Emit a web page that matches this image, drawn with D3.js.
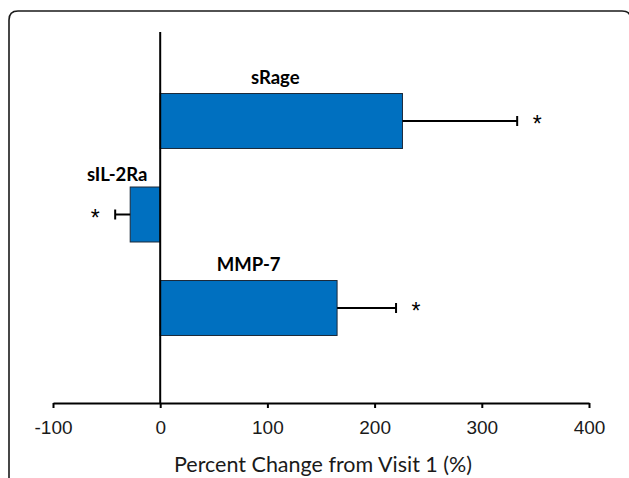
<!DOCTYPE html>
<html>
<head>
<meta charset="utf-8">
<script src="https://cdn.jsdelivr.net/npm/d3@7"></script>
<style>
  html, body { margin: 0; padding: 0; background: #fff; }
  svg { display: block; }
</style>
</head>
<body>
<svg id="chart" width="629" height="478"></svg>
<script>
// ---- data ----
const categories = ["sRage", "sIL-2Ra", "MMP-7"];
const values = [226, -28, 165];
const errors = [107, 14, 55];
const significant = [true, true, true];
const xTicks = [-100, 0, 100, 200, 300, 400];
const xTitle = "Percent Change from Visit 1 (%)";

const svg = d3.select("#chart");

// frame (rounded, cut off at right/bottom)
svg.append("path")
  .attr("d", "M9,490 L9,20 Q9,11 18,11 L622,11 Q631,11 631,20 L631,490")
  .attr("fill", "none").attr("stroke", "#1a1a1a").attr("stroke-width", 1.6);

const x = d3.scaleLinear().domain([-100, 400]).range([53, 589]);
const y = d3.scaleBand().domain(categories)
  .range([74.25, 354.75]).paddingInner(0.412).paddingOuter(0.206);
const axisY = 403;
const topY = 32;

const data = categories.map((c, i) => ({c, v: values[i], e: errors[i], s: significant[i]}));

// bars
svg.selectAll("rect.bar").data(data).join("rect")
  .attr("class", "bar")
  .attr("x", d => x(Math.min(0, d.v)))
  .attr("width", d => Math.abs(x(d.v) - x(0)))
  .attr("y", d => y(d.c))
  .attr("height", y.bandwidth())
  .attr("fill", "#0070C0")
  .attr("stroke", "#1c2a3a").attr("stroke-width", 1);

// error bars
const errEnd = d => d.v >= 0 ? d.v + d.e : d.v - d.e;
const mid = d => y(d.c) + y.bandwidth() / 2;
svg.selectAll("line.err").data(data).join("line")
  .attr("x1", d => x(d.v)).attr("x2", d => x(errEnd(d)))
  .attr("y1", mid).attr("y2", mid)
  .attr("stroke", "#000").attr("stroke-width", 2);
svg.selectAll("line.cap").data(data).join("line")
  .attr("x1", d => x(errEnd(d))).attr("x2", d => x(errEnd(d)))
  .attr("y1", d => mid(d) - 5).attr("y2", d => mid(d) + 5)
  .attr("stroke", "#000").attr("stroke-width", 2);

// asterisks
svg.selectAll("text.star").data(data.filter(d => d.s)).join("text")
  .attr("x", d => x(errEnd(d)) + (d.v >= 0 ? 20 : -20))
  .attr("y", d => mid(d) + 11)
  .attr("text-anchor", "middle")
  .attr("font-family", "'Liberation Sans', Arial, sans-serif")
  .attr("font-size", 23)
  .attr("fill", "#000")
  .text("*");

// category labels
svg.selectAll("text.lab").data(data).join("text")
  .attr("x", d => d.v >= 0 ? x(d.v / 2) - (d.v > 200 ? 6 : 0) : x(errEnd(d)) + 2)
  .attr("y", d => y(d.c) - (d.v >= 0 ? 10 : 6))
  .attr("text-anchor", "middle")
  .attr("font-family", "Lato, 'Liberation Sans', sans-serif")
  .attr("font-weight", "bold")
  .attr("font-size", 18.5)
  .attr("fill", "#000")
  .text(d => d.c);

// vertical zero line
svg.append("line")
  .attr("x1", x(0)).attr("x2", x(0))
  .attr("y1", topY).attr("y2", axisY)
  .attr("stroke", "#000").attr("stroke-width", 2);

// x axis
const gx = svg.append("g").attr("transform", `translate(0,${axisY})`)
  .call(d3.axisBottom(x).tickValues(xTicks).tickSize(5).tickSizeOuter(0).tickFormat(d3.format("d")).tickPadding(13));
gx.select(".domain").attr("stroke", "#000").attr("stroke-width", 2);
gx.selectAll(".tick line").attr("stroke", "#000").attr("stroke-width", 2);
gx.selectAll(".tick text")
  .attr("font-family", "'Liberation Sans', Arial, sans-serif")
  .attr("font-size", 19).attr("fill", "#1a1a1a")
  .text(d => d < 0 ? "-" + Math.abs(d) : d);

svg.append("text")
  .attr("x", (x(-100) + x(400)) / 2 + 2)
  .attr("y", 472)
  .attr("text-anchor", "middle")
  .attr("font-family", "Lato, 'Open Sans', sans-serif")
  .attr("font-size", 21.5)
  .attr("fill", "#1a1a1a")
  .text(xTitle);
</script>
</body>
</html>
